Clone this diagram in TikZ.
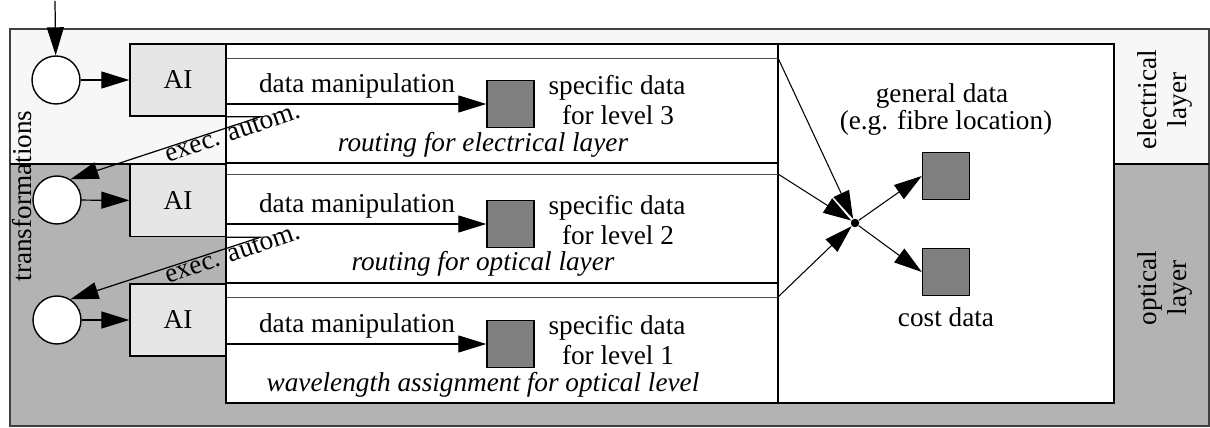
\documentclass[tikz,border=0pt]{standalone}
\usepackage{fontspec}
\setmainfont{Liberation Serif}
\usetikzlibrary{arrows.meta}
\definecolor{lightbg}{HTML}{F7F7F7}
\definecolor{darkbg}{HTML}{B3B3B3}
\definecolor{aifill}{HTML}{E6E6E6}
\definecolor{sqfill}{HTML}{808080}
\newcommand\diagfont{\fontsize{15.5pt}{17pt}\selectfont}
\begin{document}
\begin{tikzpicture}[x=0.02cm,y=-0.02cm,
  every node/.style={font=\diagfont, inner sep=0pt},
  arr/.style={-{Triangle[length=0.56cm,width=0.34cm]}, line width=0.7pt},
  circ/.style={circle, draw, line width=0.8pt, fill=white, minimum size=0.96cm},
  aibox/.style={draw, line width=0.8pt, fill=aifill, minimum width=1.92cm, minimum height=1.44cm},
  rowbox/.style={draw, line width=1pt, fill=white, minimum width=11.04cm, minimum height=2.4cm},
  genbox/.style={draw, line width=1pt, fill=white, minimum width=6.72cm, minimum height=7.18cm},
  thinline/.style={draw=black!70, line width=0.5pt},
  datasq/.style={draw, line width=0.8pt, fill=sqfill, minimum size=0.94cm},
  lbl/.style={anchor=base},
  hubdot/.style={circle, fill=black, minimum size=0.17cm},
]
\useasboundingbox (0,0) rectangle (1210,428);
% layer backgrounds
\fill[lightbg] (10,29) rectangle (1209,164);
\fill[darkbg] (10,164) rectangle (1209,426);
\draw[line width=0.6pt, black!75] (10,29) rectangle (1209,426);
\draw[line width=0.8pt] (10,164) -- (1209,164);

% level rows
\node[rowbox, minimum height=2.38cm] (r1) at (502,103.5) {};
\node[rowbox] (r2) at (502,223) {};
\node[rowbox] (r3) at (502,343) {};
\node[genbox] (gen) at (946,223.5) {};

\coordinate (e1) at (778,58);
\coordinate (e2) at (778,174);
\coordinate (e3) at (778,297);
\draw[thinline] (226,58) -- (e1);
\draw[thinline] (226,174) -- (e2);
\draw[thinline] (226,297) -- (e3);

% circles and AI boxes
\node[circ] (c1) at (56,80) {};
\node[circ] (c2) at (57,200) {};
\node[circ] (c3) at (57,320) {};
\node[aibox] (ai1) at (178,80) {AI};
\node[aibox] (ai2) at (178,200.5) {AI};
\node[aibox] (ai3) at (178,320) {AI};

\coordinate (in) at (55,1);
\draw[arr] (in) -- (c1);
\draw[arr] (c1) -- (ai1);
\draw[arr] (c2) -- (ai2);
\draw[arr] (c3) -- (ai3);

% exec. autom. arrows
\draw[arr] (ai1.south east) -- ++(34,0) -- (c2.57);
\draw[arr] (ai2.south east) -- ++(34,0) -- (c3.57);
\node[anchor=base, rotate=19] (ea1) at (235,140) {exec. autom.};
\node[anchor=base, rotate=19] (ea2) at (235,261) {exec. autom.};
\node[rotate=90] (tr) at (22,196) {transformations};

% specific data squares
\node[datasq] (sq3) at (510.5,104) {};
\node[datasq] (sq2) at (510.5,224) {};
\node[datasq] (sq1) at (510.5,344) {};
\draw[arr] (ai1.east |- sq3) -- (sq3);
\draw[arr] (ai2.east |- sq2) -- (sq2);
\draw[arr] (ai3.east |- sq1) -- (sq1);

\node[lbl] (dm3) at (357,93) {data manipulation};
\node[lbl] (dm2) at (357,213) {data manipulation};
\node[lbl] (dm1) at (357,333) {data manipulation};
\node[lbl] (sa3) at (617,95) {specific data};
\node[lbl] (sb3) at (618,125) {for level 3};
\node[lbl] (sa2) at (617,215) {specific data};
\node[lbl] (sb2) at (618,245) {for level 2};
\node[lbl] (sa1) at (617,335) {specific data};
\node[lbl] (sb1) at (618,365) {for level 1};
\node[lbl, font=\diagfont\itshape] (rt3) at (483,152) {routing for electrical layer};
\node[lbl, font=\diagfont\itshape] (rt2) at (483,271) {routing for optical layer};
\node[lbl, font=\diagfont\itshape] (rt1) at (483,392) {wavelength assignment for optical level};

% general data
\node[hubdot] (hub) at (855,223) {};
\draw[arr, line width=0.6pt] (e1) -- (hub);
\draw[arr, line width=0.6pt] (e2) -- (hub);
\draw[arr, line width=0.6pt] (e3) -- (hub);
\node[datasq] (sqg) at (946,176) {};
\node[datasq] (sqc) at (946,272) {};
\draw[arr, line width=0.6pt] (hub) -- (sqg.west);
\draw[arr, line width=0.6pt] (hub) -- (sqc.west);
\node[lbl] (gd) at (942,103) {general data};
\node[lbl] (gl) at (946,130) {(e.g. fibre location)};
\node[lbl] (cd) at (946,327) {cost data};

% layer labels
\node[rotate=90, align=center] (el) at (1165,100) {electrical\\layer};
\node[rotate=90, align=center] (ol) at (1165,288) {optical\\layer};
\end{tikzpicture}
\end{document}
